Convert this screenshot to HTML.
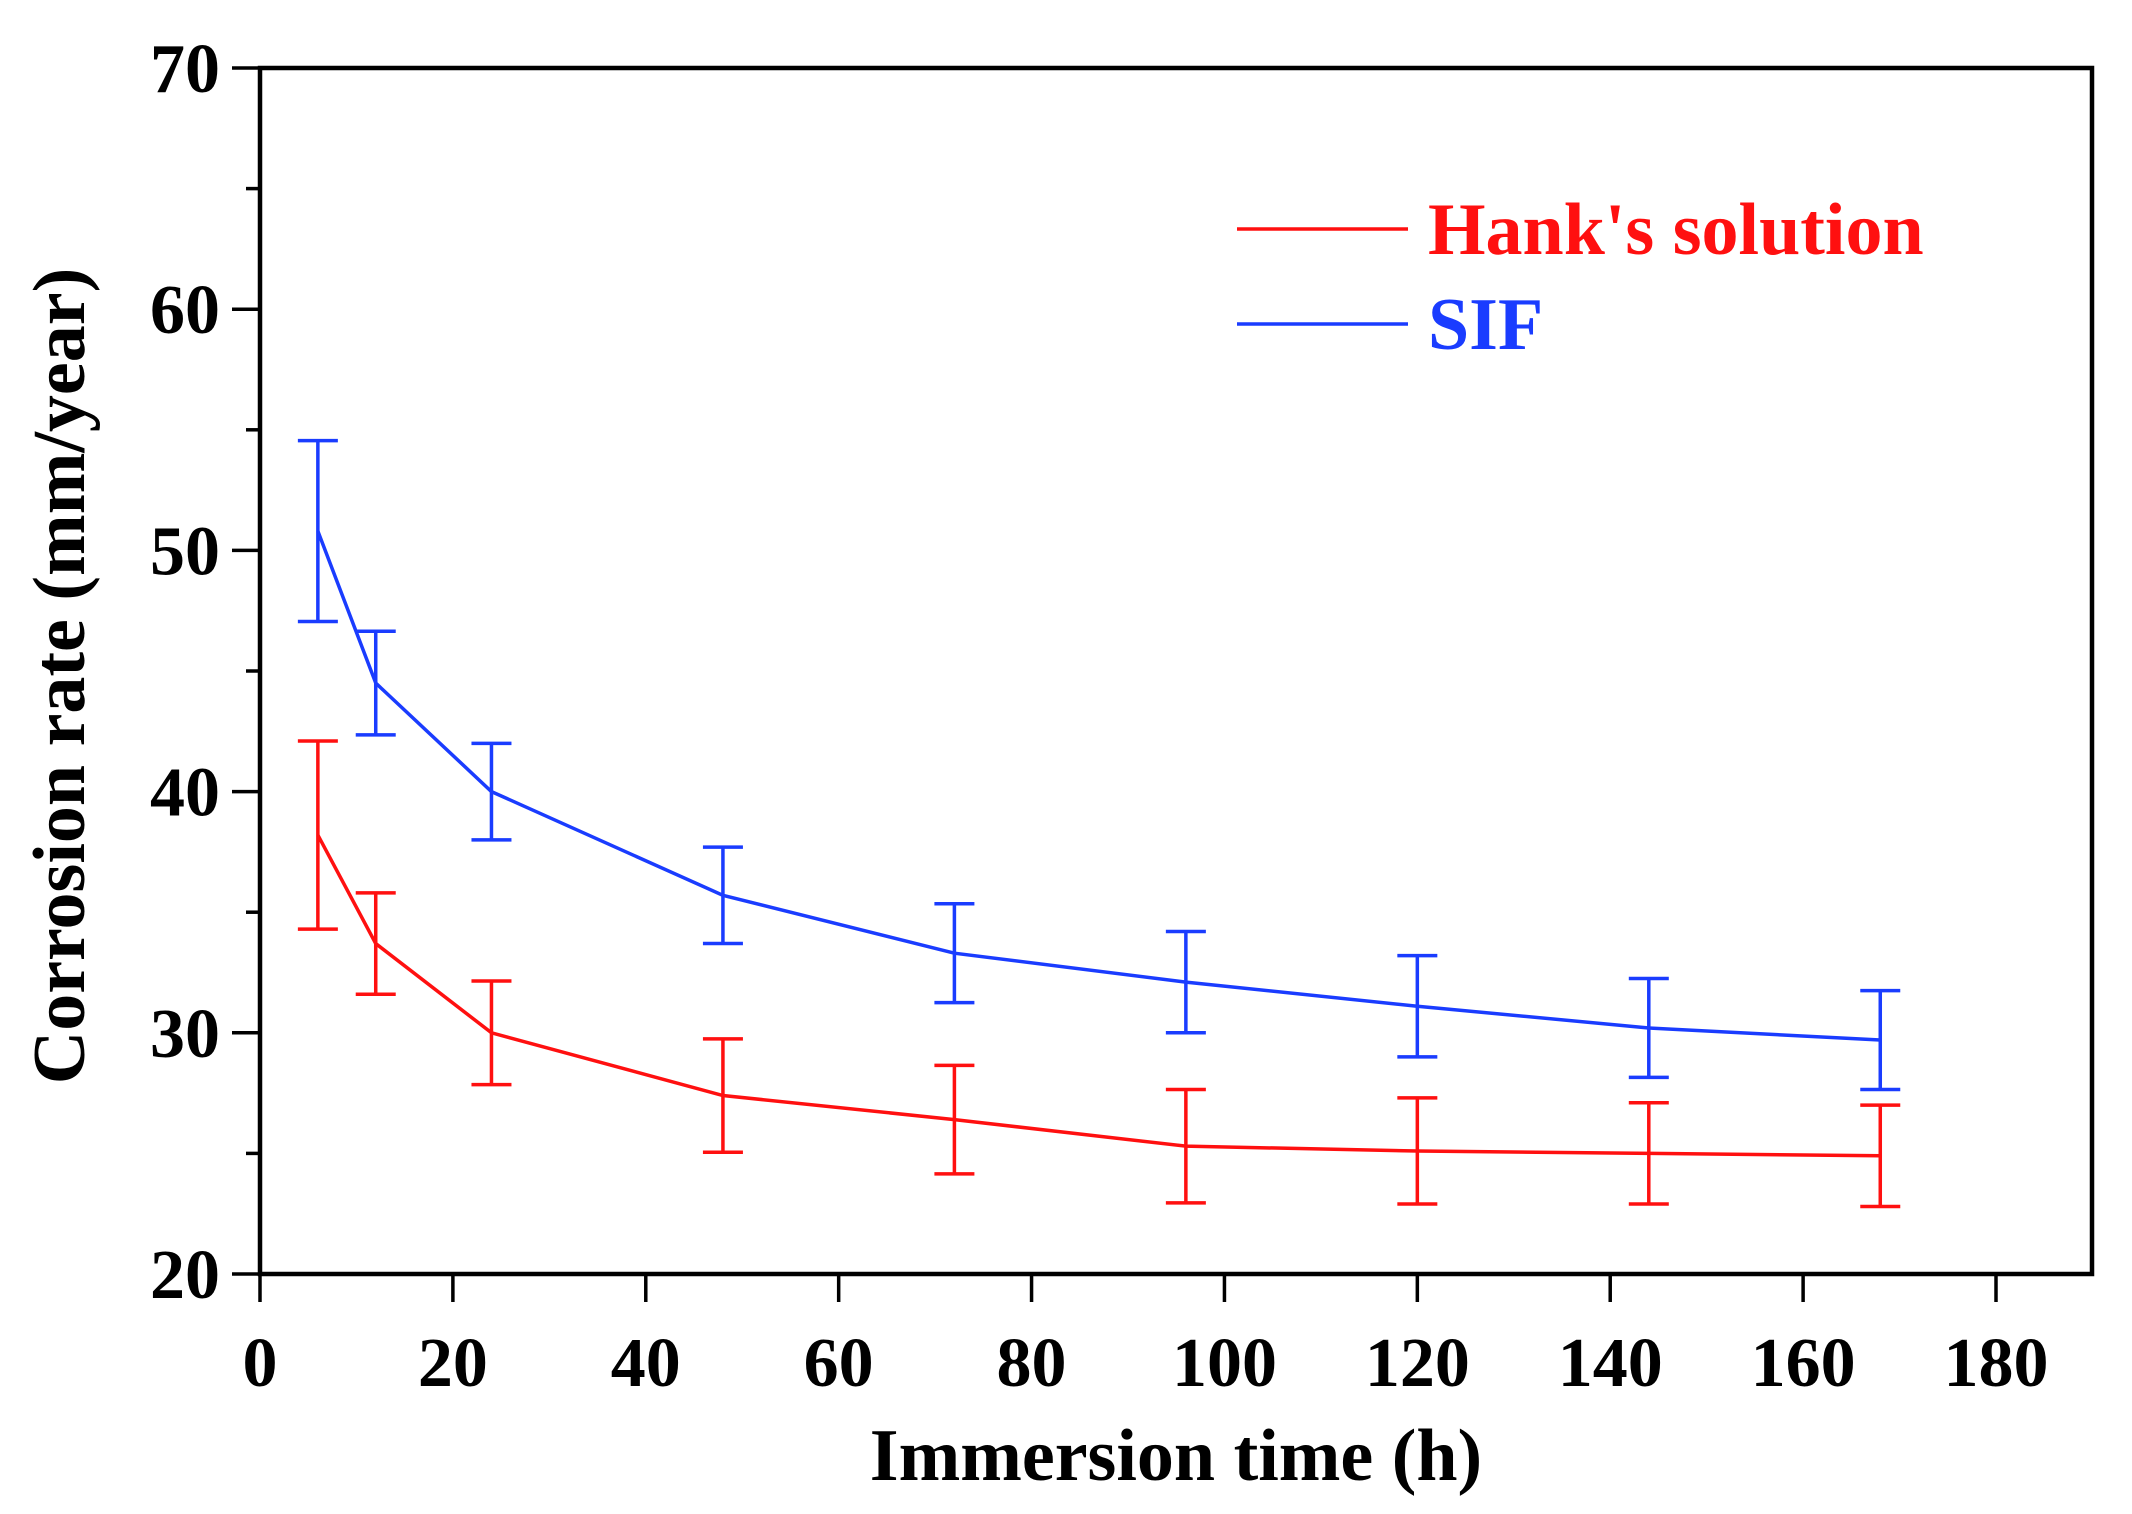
<!DOCTYPE html>
<html><head><meta charset="utf-8"><style>
html,body{margin:0;padding:0;background:#fff}
svg{display:block}
text{font-family:"Liberation Serif",serif;font-weight:bold}
</style></head><body>
<svg id="chart" width="2132" height="1514" viewBox="0 0 2132 1514" xmlns="http://www.w3.org/2000/svg">
<g id="axes"></g>
<g id="series"></g>
<text x="1176" y="1480" font-size="74" text-anchor="middle">Immersion time (h)</text>
<text transform="translate(84,676) rotate(-90)" font-size="74" text-anchor="middle">Corrosion rate (mm/year)</text>
<g>
<line x1="1237" y1="229" x2="1408" y2="229" stroke="#ff1010" stroke-width="3.5"/>
<text x="1428" y="254" font-size="74" fill="#ff1010">Hank's solution</text>
<line x1="1237" y1="324" x2="1408" y2="324" stroke="#1a3cff" stroke-width="3.5"/>
<text x="1428" y="349" font-size="74" fill="#1a3cff">SIF</text>
</g>
</svg>
<script>
const times=[6,12,24,48,72,96,120,144,168];
const hanksMean=[38.2,33.7,30.0,27.4,26.4,25.3,25.1,25.0,24.9];
const hanksErr=[3.9,2.1,2.15,2.35,2.25,2.35,2.2,2.1,2.1];
const sifMean=[50.8,44.5,40.0,35.7,33.3,32.1,31.1,30.2,29.7];
const sifErr=[3.75,2.15,2.0,2.0,2.05,2.1,2.1,2.05,2.05];
const xTicks=[0,20,40,60,80,100,120,140,160,180];
const yTicks=[20,30,40,50,60,70];
const yMinor=[25,35,45,55,65];
const L=260,R=2092,T=68,B=1274;
const X0=260,X180=1996;
function sx(v){return X0+(X180-X0)*v/180;}
function sy(v){return B-(B-T)*(v-20)/50;}
const NS="http://www.w3.org/2000/svg";
function mk(tag,attrs,parent){const e=document.createElementNS(NS,tag);for(const k in attrs)e.setAttribute(k,attrs[k]);parent.appendChild(e);return e;}
const ax=document.getElementById('axes');
let fr=mk('rect',{x:L,y:T,width:R-L,height:B-T,fill:'none',stroke:'#000','stroke-width':4.5},ax);


xTicks.forEach(v=>{
 const t=mk('line',{x1:sx(v),x2:sx(v),y1:B,y2:B+28,stroke:'#000','stroke-width':3.5},ax);
 
 
 const l=mk('text',{x:sx(v),y:1386,'font-size':70,'text-anchor':'middle'},ax);
 l.textContent=v;
 
 
});
yTicks.forEach(v=>{
 const t=mk('line',{x1:L-28,x2:L,y1:sy(v),y2:sy(v),stroke:'#000','stroke-width':3.5},ax);
 
 
 const l=mk('text',{x:220,y:sy(v)+24,'font-size':70,'text-anchor':'end'},ax);
 l.textContent=v;
 
 
});
yMinor.forEach(v=>{
 const t=mk('line',{x1:L-14,x2:L,y1:sy(v),y2:sy(v),stroke:'#000','stroke-width':3.5},ax);
 
 
});
const sg=document.getElementById('series');
function drawSeries(mean,err,color,name){
 const g=mk('g',{},sg);
 
 
 const pts=times.map((t,i)=>sx(t)+','+sy(mean[i])).join(' ');
 const pl=mk('polyline',{points:pts,fill:'none',stroke:color,'stroke-width':3.5},g);
 
 
 times.forEach((t,i)=>{
  const x=sx(t),y1=sy(mean[i]+err[i]),y2=sy(mean[i]-err[i]);
  const e=mk('path',{d:`M${x},${y1}V${y2}M${x-20},${y1}H${x+20}M${x-20},${y2}H${x+20}`,fill:'none',stroke:color,'stroke-width':3.5},g);
  
  
 });
}
drawSeries(hanksMean,hanksErr,'#ff1010','hanks');
drawSeries(sifMean,sifErr,'#1a3cff','sif');
</script>
</body></html>
